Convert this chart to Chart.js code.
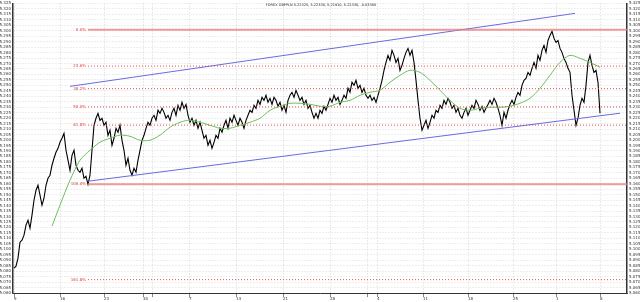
<!DOCTYPE html>
<html>
<head>
<meta charset="utf-8">
<script src="https://cdn.jsdelivr.net/npm/chart.js@4.4.0/dist/chart.umd.min.js"></script>
<style>
  html, body { margin: 0; padding: 0; background: #fff; }
  #wrap { width: 640px; height: 302px; }
</style>
</head>
<body>
<div id="wrap"><canvas id="chart"></canvas></div>
<script>
// GBP/PLN from 9 June 2014, one close per bar (about 5 hours per bar)
const titleText = 'FOREX GBPPLN 5.22325, 5.22330, 5.21910, 5.22330, -0.03360';
const closes = [
  5.0828, 5.0846, 5.0919, 5.1065, 5.1083, 5.1129, 5.1221, 5.1266, 5.1193, 5.1312,
  5.1449, 5.1540, 5.1586, 5.1495, 5.1403, 5.1467, 5.1586, 5.1650, 5.1678, 5.1769,
  5.1833, 5.1888, 5.1924, 5.1979, 5.2016, 5.2061, 5.1906, 5.1815, 5.1723, 5.1860,
  5.1906, 5.1769, 5.1723, 5.1705, 5.1742, 5.1650, 5.1668, 5.1595, 5.1678, 5.1906,
  5.2135, 5.2199, 5.2244, 5.2180, 5.2199, 5.2135, 5.2162, 5.2043, 5.2089, 5.1952,
  5.2016, 5.2107, 5.2071, 5.2135, 5.1997, 5.1906, 5.1769, 5.1833, 5.1723, 5.1678,
  5.1742, 5.1705, 5.1815, 5.1906, 5.1997, 5.2043, 5.2107, 5.2162, 5.2135, 5.2199,
  5.2226, 5.2180, 5.2272, 5.2244, 5.2290, 5.2253, 5.2199, 5.2226, 5.2180, 5.2253,
  5.2290, 5.2226, 5.2317, 5.2272, 5.2345, 5.2290, 5.2326, 5.2226, 5.2162, 5.2199,
  5.2135, 5.2180, 5.2107, 5.2162, 5.2089, 5.2016, 5.2043, 5.1952, 5.1997, 5.1924,
  5.1979, 5.2043, 5.2016, 5.2107, 5.2071, 5.2135, 5.2180, 5.2107, 5.2199, 5.2162,
  5.2226, 5.2180, 5.2135, 5.2199, 5.2162, 5.2107, 5.2180, 5.2226, 5.2272, 5.2253,
  5.2317, 5.2290, 5.2363, 5.2326, 5.2390, 5.2363, 5.2409, 5.2345, 5.2381, 5.2326,
  5.2390, 5.2363, 5.2308, 5.2345, 5.2272, 5.2317, 5.2253, 5.2363, 5.2409, 5.2436,
  5.2390, 5.2454, 5.2409, 5.2363, 5.2390, 5.2326, 5.2363, 5.2290, 5.2317, 5.2253,
  5.2199, 5.2244, 5.2199, 5.2272, 5.2244, 5.2308, 5.2272, 5.2326, 5.2381, 5.2345,
  5.2409, 5.2363, 5.2390, 5.2326, 5.2363, 5.2409, 5.2381, 5.2473, 5.2436, 5.2528,
  5.2500, 5.2546, 5.2473, 5.2500, 5.2436, 5.2473, 5.2409, 5.2381, 5.2409, 5.2363,
  5.2390, 5.2345, 5.2409, 5.2473, 5.2546, 5.2637, 5.2710, 5.2774, 5.2729, 5.2820,
  5.2774, 5.2710, 5.2747, 5.2637, 5.2683, 5.2747, 5.2802, 5.2838, 5.2774, 5.2820,
  5.2710, 5.2546, 5.2363, 5.2199, 5.2089, 5.2135, 5.2180, 5.2107, 5.2162, 5.2226,
  5.2199, 5.2272, 5.2253, 5.2317, 5.2290, 5.2363, 5.2326, 5.2381, 5.2345, 5.2290,
  5.2317, 5.2253, 5.2290, 5.2226, 5.2199, 5.2253, 5.2290, 5.2226, 5.2272, 5.2317,
  5.2290, 5.2363, 5.2326, 5.2272, 5.2308, 5.2253, 5.2290, 5.2326, 5.2363, 5.2326,
  5.2381, 5.2345, 5.2290, 5.2226, 5.2135, 5.2253, 5.2199, 5.2272, 5.2326, 5.2363,
  5.2326, 5.2390, 5.2436, 5.2409, 5.2500, 5.2546, 5.2564, 5.2619, 5.2592, 5.2656,
  5.2710, 5.2656, 5.2774, 5.2729, 5.2820, 5.2866, 5.2802, 5.2911, 5.2957, 5.2994,
  5.2930, 5.2893, 5.2911, 5.2838, 5.2802, 5.2747, 5.2710, 5.2656, 5.2619, 5.2409,
  5.2272, 5.2135, 5.2199, 5.2317, 5.2381, 5.2345, 5.2500, 5.2710, 5.2774, 5.2683,
  5.2619, 5.2637, 5.2528, 5.2244
];

// moving average (bar index, price)
const maBars = [19, 23, 28, 33, 38, 43, 48, 53, 58, 63, 68, 73, 78, 83, 88, 93, 98, 103,
  108, 113, 118, 123, 128, 133, 138, 143, 148, 153, 158, 163, 168, 173, 178, 183, 188, 193,
  198, 203, 208, 213, 218, 223, 228, 233, 238, 243, 248, 253, 258, 263, 268, 273, 278, 283,
  288, 293];
const maValues = [5.1212, 5.1404, 5.1632, 5.1815, 5.1906, 5.1980, 5.2016, 5.2044, 5.2034,
  5.1998, 5.1998, 5.2044, 5.2117, 5.2162, 5.2181, 5.2162, 5.2135, 5.2108, 5.2108, 5.2135,
  5.2162, 5.2199, 5.2272, 5.2309, 5.2336, 5.2336, 5.2327, 5.2309, 5.2309, 5.2345, 5.2363,
  5.2409, 5.2437, 5.2455, 5.2528, 5.2592, 5.2638, 5.2619, 5.2546, 5.2455, 5.2363, 5.2290,
  5.2272, 5.2290, 5.2300, 5.2300, 5.2309, 5.2336, 5.2382, 5.2473, 5.2592, 5.2711, 5.2775,
  5.2747, 5.2711, 5.2665];

// trend channel end points [bar, price]
const channelUpper = [[28, 5.2491], [280.5, 5.3159]];
const channelLower = [[37, 5.1623], [303, 5.2245]];

// fibonacci retracement
const fibHigh = 5.3010;
const fibLow = 5.1596;
const fibStartBar = 37;
const fibRatios = [0, 0.236, 0.382, 0.5, 0.618, 1, 1.618];
const fibLabels = ['0.0%', '23.6%', '38.2%', '50.0%', '61.8%', '100.0%', '161.8%'];

// x axis ticks (bar index of each Monday / month start)
const xTickBars = [0, 23, 45, 64.5, 69, 87.5, 111, 134.5, 158, 176.5, 181.5, 204.5, 227, 249.5, 271, 293];
const xTickLabels = [['9', '2014'], '16', '23', '30', ['', 'Juli'], '7', '14', '21', '28',
  ['', 'August'], '4', '11', '18', '25', ['1', 'September'], '8'];
const xMin = -0.5, xMax = 306.5;
const yMin = 5.060, yMax = 5.325, yStep = 0.005;

const tinyFont = { family: 'DejaVu Sans', size: 4 };

const datasets = [];
fibRatios.forEach(r => {
  const level = fibHigh - r * (fibHigh - fibLow);
  const solid = (r === 0 || r === 1);
  datasets.push({
    data: [{ x: fibStartBar, y: level }, { x: xMax, y: level }],
    borderColor: solid ? 'rgba(235,120,120,0.75)' : 'rgba(225,60,60,0.9)',
    borderWidth: solid ? 2 : 1,
    borderDash: solid ? [] : [1, 2],
    pointRadius: 0
  });
});
datasets.push({
  data: channelUpper.map(p => ({ x: p[0], y: p[1] })),
  borderColor: '#6a6ae0', borderWidth: 1, pointRadius: 0
});
datasets.push({
  data: channelLower.map(p => ({ x: p[0], y: p[1] })),
  borderColor: '#6a6ae0', borderWidth: 1, pointRadius: 0
});
datasets.push({
  data: maBars.map((b, i) => ({ x: b, y: maValues[i] })),
  borderColor: '#6cbf5c', borderWidth: 1, pointRadius: 0, tension: 0.3
});
datasets.push({
  data: closes.map((v, i) => ({ x: i, y: v })),
  borderColor: '#000', borderWidth: 1.1, pointRadius: 0
});

// fib labels and title text
const annotations = {
  id: 'annotations',
  afterDatasetsDraw(chart) {
    const { ctx, scales } = chart;
    ctx.save();
    ctx.font = '4px "DejaVu Sans"';
    ctx.fillStyle = '#e03c3c';
    ctx.textAlign = 'right';
    ctx.textBaseline = 'middle';
    fibRatios.forEach((r, i) => {
      const level = fibHigh - r * (fibHigh - fibLow);
      ctx.fillText(fibLabels[i], scales.x.getPixelForValue(fibStartBar) - 2, scales.y.getPixelForValue(level));
    });
    ctx.fillStyle = '#222';
    ctx.textAlign = 'center';
    ctx.font = '3.5px "DejaVu Sans"';
    ctx.fillText(titleText, 321, 5);
    ctx.restore();
  }
};

const yTickCallback = v => v.toFixed(3);

new Chart(document.getElementById('chart'), {
  type: 'line',
  data: { datasets },
  plugins: [annotations],
  options: {
    responsive: true,
    maintainAspectRatio: false,
    animation: false,
    parsing: false,
    layout: { padding: { top: 3, left: 0, right: 0, bottom: 0 } },
    plugins: { legend: { display: false }, tooltip: { enabled: false } },
    scales: {
      x: {
        type: 'linear',
        min: xMin,
        max: xMax,
        afterBuildTicks: s => { s.ticks = xTickBars.map(v => ({ value: v })); },
        afterFit: s => { s.height = 9; },
        ticks: {
          autoSkip: false, maxRotation: 0, align: 'start', padding: 0,
          font: tinyFont, color: '#333',
          callback: (v, i) => xTickLabels[i]
        },
        grid: { color: '#c4c4c4', lineWidth: 0.7, tickLength: 4, tickColor: '#555' },
        border: { color: '#333', width: 1, dash: [1, 2] }
      },
      y: {
        position: 'left',
        min: yMin,
        max: yMax,
        afterFit: s => { s.width = 13; },
        ticks: { stepSize: yStep, autoSkip: false, font: tinyFont, color: '#333', padding: 1, callback: yTickCallback },
        grid: { color: '#d0d0d0', lineWidth: 0.7, tickLength: 1 },
        border: { color: '#333', width: 1.5, dash: [1, 2] }
      },
      y2: {
        position: 'right',
        min: yMin,
        max: yMax,
        afterFit: s => { s.width = 13; },
        ticks: { stepSize: yStep, autoSkip: false, font: tinyFont, color: '#333', padding: 1, callback: yTickCallback },
        grid: { display: false, tickLength: 1 },
        border: { color: '#333', width: 1.5 }
      }
    }
  }
});
</script>
</body>
</html>
